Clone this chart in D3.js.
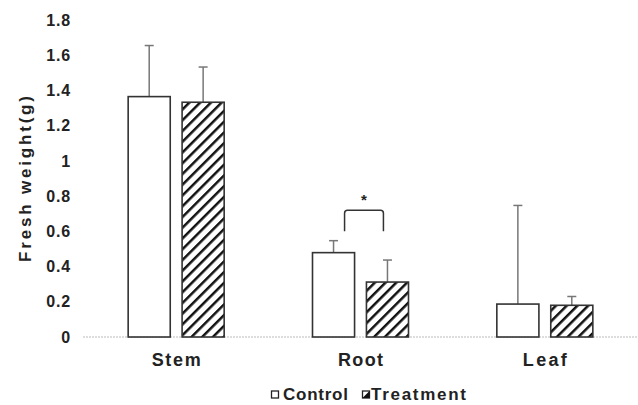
<!DOCTYPE html>
<html lang="en">
<head>
<meta charset="utf-8">
<title>Fresh weight</title>
<style type="text/css">
  body { margin: 0; background: #fff; }
  text { font-family: "Liberation Sans", Arial, sans-serif; font-weight: bold; fill: #222; }
</style>
</head>
<body>
<script src="https://d3js.org/d3.v7.min.js"></script>
<script>

    var categories = ["Stem", "Root", "Leaf"];
    var seriesNames = ["Control", "Treatment"];
    var controlValues = [1.365, 0.479, 0.187];
    var controlErrors = [0.29, 0.068, 0.56];
    var treatmentValues = [1.333, 0.312, 0.18];
    var treatmentErrors = [0.2, 0.125, 0.05];
    var yTicks = [0, 0.2, 0.4, 0.6, 0.8, 1, 1.2, 1.4, 1.6, 1.8];

    var width = 638, height = 405;
    var margin = {top: 20, right: 1, bottom: 68, left: 84};

    var svg = d3.select("body").append("svg")
        .attr("width", width)
        .attr("height", height);

    var defs = svg.append("defs");
    var pat = defs.append("pattern")
        .attr("id", "hatch")
        .attr("patternUnits", "userSpaceOnUse")
        .attr("width", 7.6)
        .attr("height", 7.6)
        .attr("patternTransform", "rotate(45)");
    pat.append("rect").attr("width", 7.6).attr("height", 7.6).attr("fill", "#fff");
    pat.append("line")
        .attr("x1", 0).attr("y1", 0).attr("x2", 0).attr("y2", 7.6)
        .attr("stroke", "#111").attr("stroke-width", 5);

    var yScale = d3.scaleLinear()
        .domain([0, 1.8])
        .range([height - margin.bottom, margin.top]);

    var xScale = d3.scaleBand()
        .domain(categories)
        .range([margin.left, width - margin.right]);

    var xInner = d3.scaleBand()
        .domain(seriesNames)
        .range([0, 96])
        .paddingInner(0.22);

    // y tick labels (no axis line)
    var yAxis = d3.axisLeft(yScale)
        .tickValues(yTicks)
        .tickSize(0)
        .tickPadding(0)
        .tickFormat(function(d){ return d3.format("")(+d.toFixed(1)); });
    var yAxisGroup = svg.append("g")
        .attr("transform", "translate(71,0)")
        .call(yAxis);
    yAxisGroup.select(".domain").remove();
    yAxisGroup.selectAll("text")
        .attr("font-size", 16)
        .attr("letter-spacing", 0.8)
        .attr("font-family", "Liberation Sans, Arial, sans-serif")
        .attr("font-weight", "bold")
        .attr("fill", "#222");

    svg.append("text")
        .attr("transform", "translate(31,179) rotate(-90)")
        .attr("text-anchor", "middle")
        .attr("font-size", 17)
        .attr("textLength", 166)
        .text("Fresh weight(g)");

    // baseline (dotted light gray)
    svg.append("line")
        .attr("x1", margin.left - 1).attr("x2", width)
        .attr("y1", yScale(0)).attr("y2", yScale(0))
        .attr("stroke", "#bbb")
        .attr("stroke-width", 1)
        .attr("stroke-dasharray", "2,1");

    var rows = categories.map(function(c, i){
        return [
            {cat: c, s: "Control", v: controlValues[i], e: controlErrors[i]},
            {cat: c, s: "Treatment", v: treatmentValues[i], e: treatmentErrors[i]}
        ];
    });
    var flat = d3.merge(rows);

    function barX(d){
        return xScale(d.cat) + (xScale.bandwidth() - xInner.range()[1]) / 2 + xInner(d.s);
    }

    // error bars
    var errs = svg.selectAll("g.err").data(flat).enter().append("g").attr("class", "err");
    errs.append("line")
        .attr("x1", function(d){ return barX(d) + xInner.bandwidth() / 2; })
        .attr("x2", function(d){ return barX(d) + xInner.bandwidth() / 2; })
        .attr("y1", function(d){ return yScale(d.v); })
        .attr("y2", function(d){ return yScale(d.v + d.e); })
        .attr("stroke", "#777").attr("stroke-width", 1.5);
    errs.append("line")
        .attr("x1", function(d){ return barX(d) + xInner.bandwidth() / 2 - 4.5; })
        .attr("x2", function(d){ return barX(d) + xInner.bandwidth() / 2 + 4.5; })
        .attr("y1", function(d){ return yScale(d.v + d.e); })
        .attr("y2", function(d){ return yScale(d.v + d.e); })
        .attr("stroke", "#777").attr("stroke-width", 1.5);

    // bars
    svg.selectAll("rect.bar")
        .data(flat)
        .enter()
        .append("rect")
        .attr("class", "bar")
        .attr("x", barX)
        .attr("y", function(d){ return yScale(d.v); })
        .attr("width", xInner.bandwidth())
        .attr("height", function(d){ return yScale(0) - yScale(d.v); })
        .attr("fill", function(d){ return d.s === "Control" ? "#fff" : "url(#hatch)"; })
        .attr("stroke", "#333")
        .attr("stroke-width", 1.6);

    // significance bracket over Root
    var rootC = flat[2], rootT = flat[3];
    var bx1 = barX(rootC) + xInner.bandwidth() - 10;
    var bx2 = barX(rootT) + 17;
    var byTop = yScale(0.72), byBot = yScale(0.6);
    svg.append("path")
        .attr("d", "M" + bx1 + "," + byBot + " L" + bx1 + "," + (byTop + 3) +
            " Q" + bx1 + "," + byTop + " " + (bx1 + 3) + "," + byTop +
            " L" + (bx2 - 3) + "," + byTop +
            " Q" + bx2 + "," + byTop + " " + bx2 + "," + (byTop + 3) +
            " L" + bx2 + "," + byBot)
        .attr("fill", "none")
        .attr("stroke", "#333")
        .attr("stroke-width", 1.5);
    svg.append("text")
        .attr("x", (bx1 + bx2) / 2)
        .attr("y", byTop - 5)
        .attr("text-anchor", "middle")
        .attr("font-size", 15)
        .attr("font-weight", "normal")
        .text("*");

    // category labels
    var catLen = [49, 45, 44];
    svg.selectAll("text.cat")
        .data(categories)
        .enter()
        .append("text")
        .attr("class", "cat")
        .attr("x", function(d){ return xScale(d) + xScale.bandwidth() / 2; })
        .attr("y", 366)
        .attr("text-anchor", "middle")
        .attr("font-size", 18)
        .attr("textLength", function(d, i){ return catLen[i]; })
        .text(function(d){ return d; });

    // legend
    var legX = [271, 362];
    var legLen = [65, 95];
    var leg = svg.selectAll("g.leg")
        .data(seriesNames)
        .enter()
        .append("g")
        .attr("class", "leg")
        .attr("transform", function(d, i){ return "translate(" + legX[i] + ",0)"; });
    leg.append("rect")
        .attr("x", 0.5).attr("y", 391)
        .attr("width", 7).attr("height", 7)
        .attr("fill", "#fff")
        .attr("stroke", "#222")
        .attr("stroke-width", 1.3);
    leg.filter(function(d){ return d === "Treatment"; })
        .append("path")
        .attr("d", "M0.5,398 L7.5,391 L7.5,398 Z")
        .attr("fill", "#111");
    leg.append("text")
        .attr("x", function(d, i){ return i === 0 ? 12 : 9; })
        .attr("y", 400)
        .attr("font-size", 17)
        .attr("textLength", function(d, i){ return legLen[i]; })
        .text(function(d){ return d; });

</script>
</body>
</html>
